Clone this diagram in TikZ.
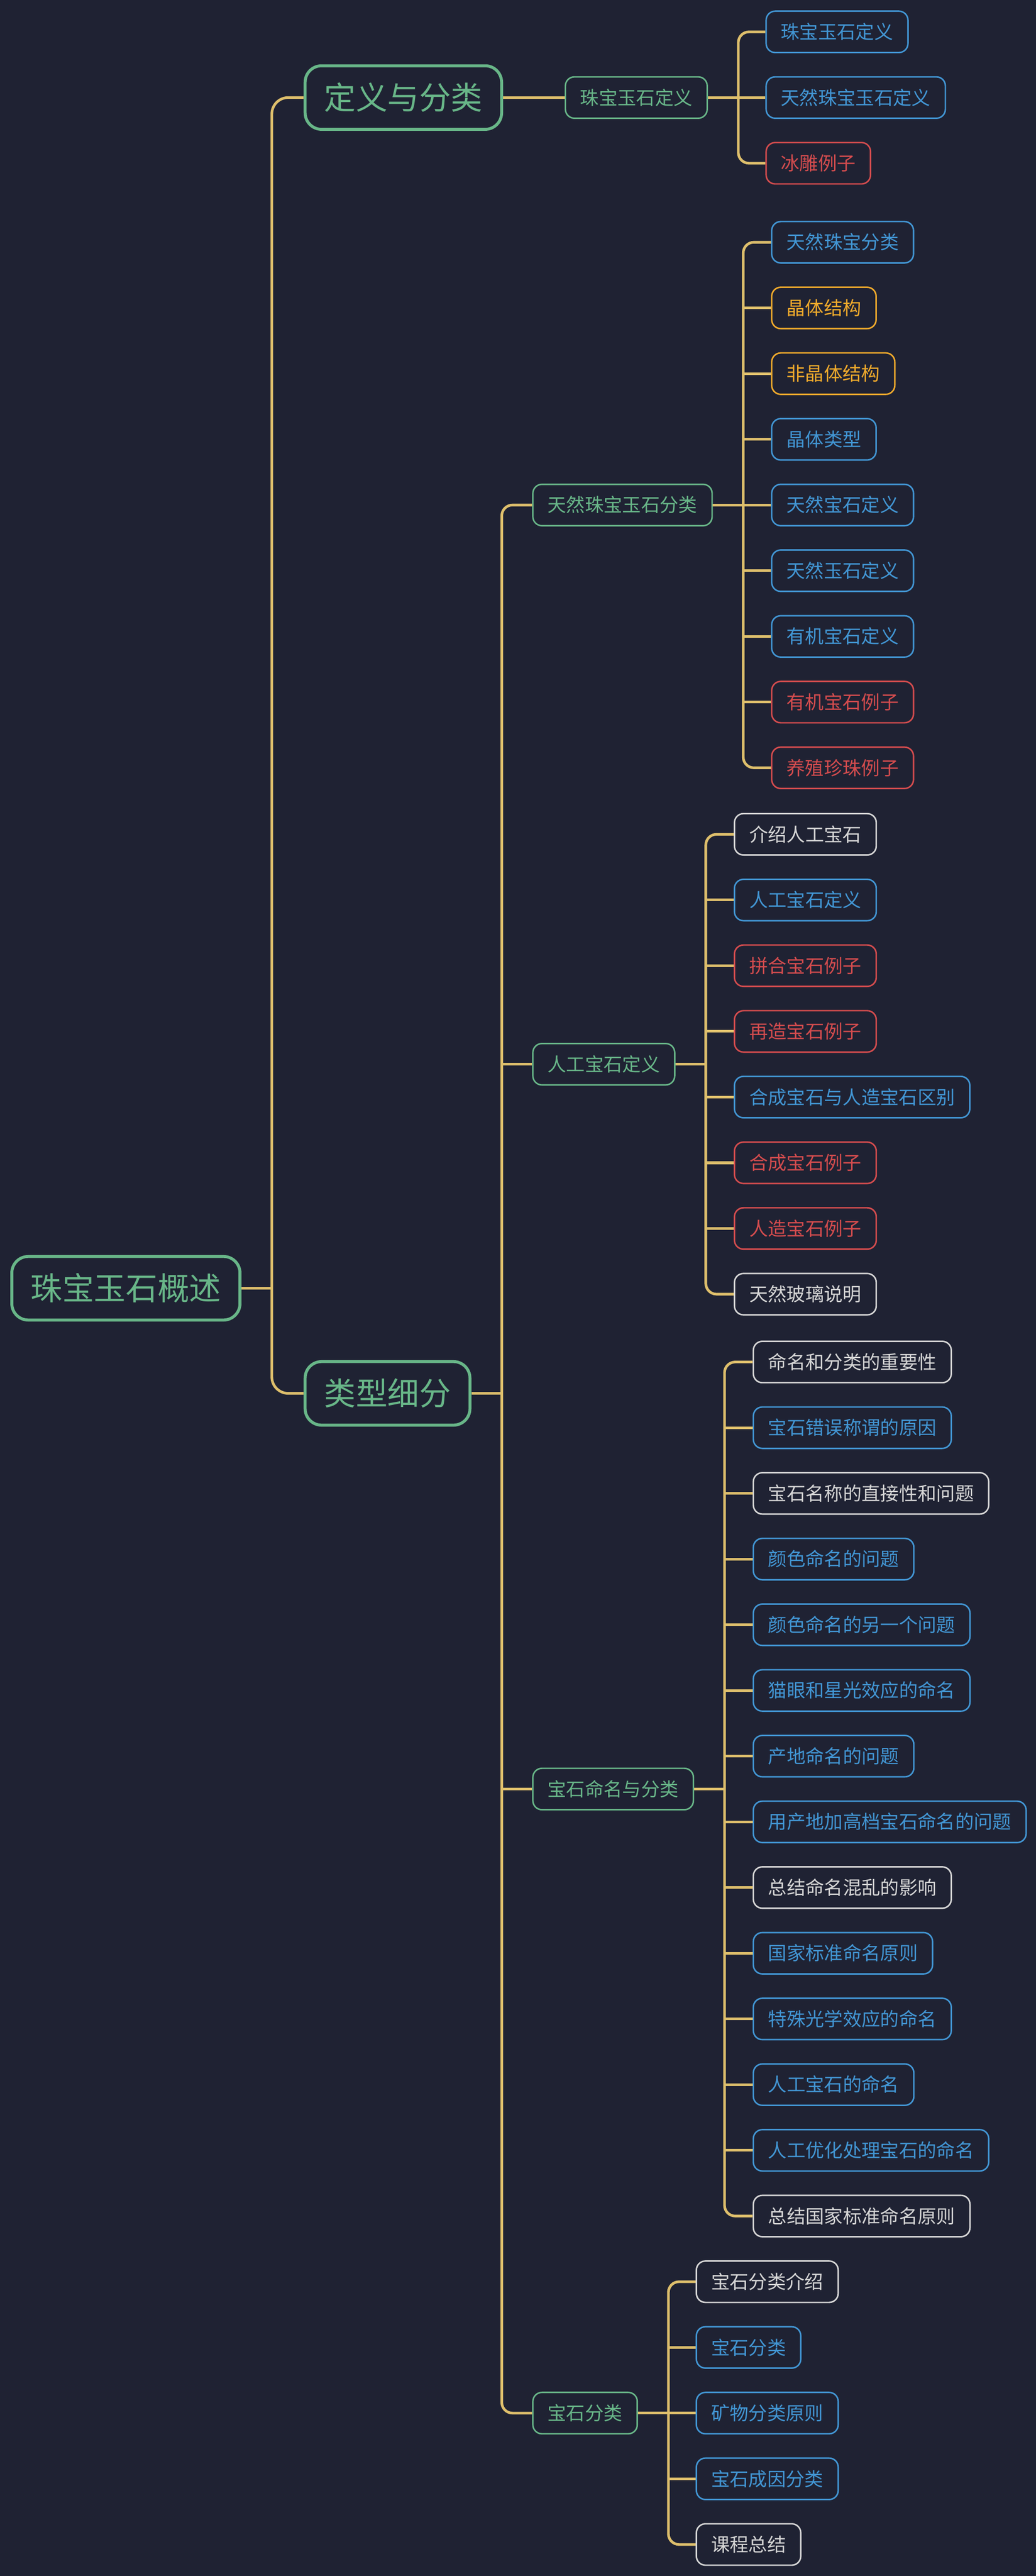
\documentclass[tikz,border=0pt]{standalone}
\usepackage{fontspec}
\setmainfont{Noto Sans CJK SC}
\usepackage{tikz}
\usetikzlibrary{shapes}% rounded boxes for the topics
\definecolor{cbg}{RGB}{31,34,51}
\definecolor{cline}{RGB}{222,191,108}
\definecolor{cgreen}{RGB}{104,182,136}
\definecolor{cblue}{RGB}{66,150,212}
\definecolor{cred}{RGB}{212,76,78}
\definecolor{corange}{RGB}{240,170,44}
\definecolor{cgrey}{RGB}{214,214,214}
\tikzset{every node/.style={font=\fontsize{11.4}{13}\selectfont},
  box/.style={rectangle, rounded corners=5.5pt, line width=0.9pt,
    inner xsep=9pt, inner ysep=0pt, minimum height=25.2pt,
    text height=10pt, text depth=1.4pt, anchor=west},
  leaf/.style={box, draw=#1, text=#1},
  topic/.style={leaf=cgreen, font=\fontsize{19.3}{22}\selectfont,
    rounded corners=10pt, line width=1.8pt, inner xsep=11.6pt,
    minimum height=38.7pt, text height=17pt, text depth=2.3pt},
  link/.style={draw=cline, line width=1.6pt, rounded corners=6.5pt}}
% #1 parent, #2 number of children named #1-1 ... #1-#2
\newcommand{\branch}[2]{%
  \coordinate (#1j) at ([xshift=18.5pt]#1.east);
  \draw[link] (#1.east) -- (#1j);
  \draw[link] (#1-1.west) -| (#1j) |- (#1-#2.west);
  \pgfmathtruncatemacro\inner{#2-1}
  \foreach \k in {2,...,\inner} \draw[link] (#1-\k.west -| #1j) -- (#1-\k.west);}

\begin{document}
\begin{tikzpicture}[x=1pt,y=-1pt]
\fill[cbg] (0,0) rectangle (631,1568.5);
\useasboundingbox (0,0) rectangle (631,1568.5);
\node[topic] (gem) at (6.3,784.4) {珠宝玉石概述};
\node[topic] (def) at (185,59.4) {定义与分类};
\node[topic] (types) at (185,848.4) {类型细分};
\node[leaf=cgreen] (jewdef) at (344,59.4) {珠宝玉石定义};
\node[leaf=cgreen] (natcls) at (324.2,307.5) {天然珠宝玉石分类};
\node[leaf=cgreen] (artdef) at (324.2,648) {人工宝石定义};
\node[leaf=cgreen] (naming) at (324.2,1089.3) {宝石命名与分类};
\node[leaf=cgreen] (gemcls) at (324.2,1469.3) {宝石分类};
\foreach \t/\c [count=\i] in {珠宝玉石定义/cblue,天然珠宝玉石定义/cblue,冰雕例子/cred}
  \node[leaf=\c] (jewdef-\i) at (466.3,{19.4+40*(\i-1)}) {\t};
\foreach \t/\c [count=\i] in {天然珠宝分类/cblue,晶体结构/corange,非晶体结构/corange,
    晶体类型/cblue,天然宝石定义/cblue,天然玉石定义/cblue,有机宝石定义/cblue,
    有机宝石例子/cred,养殖珍珠例子/cred}
  \node[leaf=\c] (natcls-\i) at (469.7,{147.5+40*(\i-1)}) {\t};
\foreach \t/\c [count=\i] in {介绍人工宝石/cgrey,人工宝石定义/cblue,拼合宝石例子/cred,
    再造宝石例子/cred,合成宝石与人造宝石区别/cblue,合成宝石例子/cred,
    人造宝石例子/cred,天然玻璃说明/cgrey}
  \node[leaf=\c] (artdef-\i) at (447,{508+40*(\i-1)}) {\t};
\foreach \t/\c [count=\i] in {命名和分类的重要性/cgrey,宝石错误称谓的原因/cblue,
    宝石名称的直接性和问题/cgrey,颜色命名的问题/cblue,颜色命名的另一个问题/cblue,
    猫眼和星光效应的命名/cblue,产地命名的问题/cblue,用产地加高档宝石命名的问题/cblue,
    总结命名混乱的影响/cgrey,国家标准命名原则/cblue,特殊光学效应的命名/cblue,
    人工宝石的命名/cblue,人工优化处理宝石的命名/cblue,总结国家标准命名原则/cgrey}
  \node[leaf=\c] (naming-\i) at (458.5,{829.3+40*(\i-1)}) {\t};
\foreach \t/\c [count=\i] in {宝石分类介绍/cgrey,宝石分类/cblue,矿物分类原则/cblue,
    宝石成因分类/cblue,课程总结/cgrey}
  \node[leaf=\c] (gemcls-\i) at (423.8,{1389.3+40*(\i-1)}) {\t};
% connectors
\coordinate (gemj) at ([xshift=18.5pt]gem.east);
\draw[link] (gem.east) -- (gemj);
\draw[link,rounded corners=10pt] (def.west) -| (gemj) |- (types.west);
\draw[link] (def.east) -- (jewdef.west);
\coordinate (typesj) at ([xshift=18.5pt]types.east);
\draw[link] (types.east) -- (typesj);
\draw[link] (natcls.west) -| (typesj) |- (gemcls.west);
\draw[link] (artdef.west -| typesj) -- (artdef.west);
\draw[link] (naming.west -| typesj) -- (naming.west);
\branch{jewdef}{3}
\branch{natcls}{9}
\branch{artdef}{8}
\branch{naming}{14}
\branch{gemcls}{5}
\end{tikzpicture}
\end{document}
